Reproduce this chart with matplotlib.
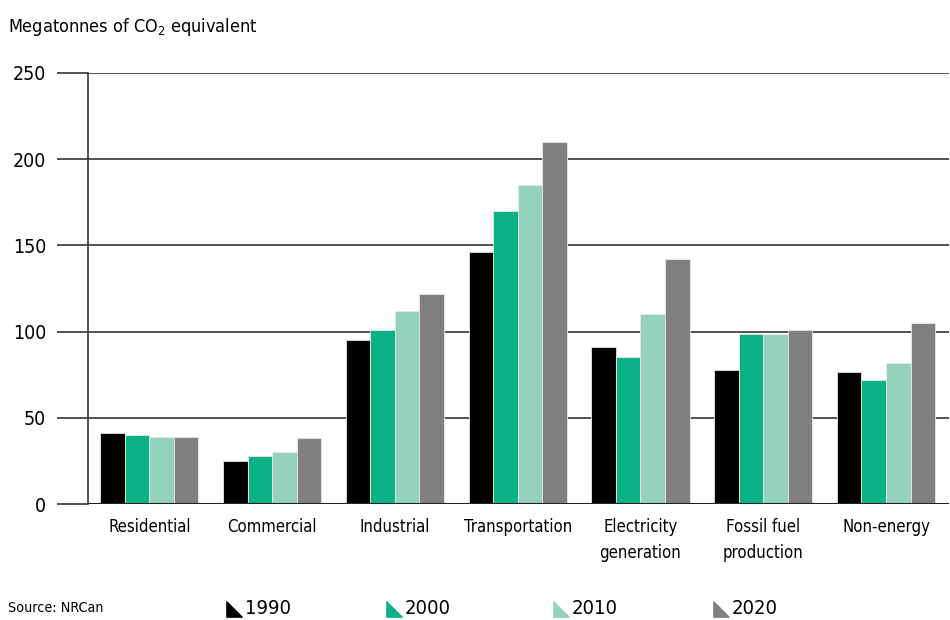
import matplotlib
matplotlib.use("Agg")
import matplotlib.pyplot as plt
import numpy as np
from matplotlib.path import Path

plt.rcParams['font.family'] = ['DejaVu Sans']
plt.rcParams['font.stretch'] = 'condensed'

categories = ["Residential", "Commercial", "Industrial", "Transportation",
              "Electricity\ngeneration", "Fossil fuel\nproduction", "Non-energy"]
years = ["1990", "2000", "2010", "2020"]
v1990 = [41, 25, 95, 146, 91, 77.5, 76.5]
v2000 = [40, 28, 101, 170, 85, 98.5, 72]
v2010 = [39, 30, 112, 185, 110, 98.5, 82]
v2020 = [39, 38, 122, 210, 142, 101, 105]
yticks = [0, 50, 100, 150, 200, 250]
colors = ["#000000", "#0bb186", "#95d2bb", "#808080"]

series = [v1990, v2000, v2010, v2020]

fig = plt.figure(figsize=(9.5, 6.2), dpi=100)
ax = fig.add_axes([88/950, 1-504/620, (949-88)/950, (504-73)/620])

x = np.arange(len(categories))
w = 0.2
for k, (vals, c) in enumerate(zip(series, colors)):
    ax.bar(x + (k - 1.5) * w, vals, width=w, color=c, edgecolor="#e8e8e8",
           linewidth=0.6, zorder=3)

ax.set_ylim(0, 250)
ax.set_xlim(-0.5, -0.5 + (949-88)/122.77)
ax.set_yticks(yticks)
ax.set_yticklabels([str(t) for t in yticks], fontsize=14)
ax.set_xticks(x)
ax.set_xticklabels(categories, fontsize=12, linespacing=1.6)
ax.tick_params(axis='x', length=0, pad=10)
ax.tick_params(axis='y', length=22, width=1.2, color="#333333", pad=8)
ax.grid(axis='y', color="#333333", linewidth=1.2, zorder=0)
for s in ["top", "right", "bottom"]:
    ax.spines[s].set_visible(False)
ax.spines["left"].set_color("#333333")
ax.spines["left"].set_linewidth(1.2)
ax.axhline(0, color="#222222", linewidth=1.5, zorder=4)

fig.text(8/950, 1-27/620, "Megatonnes of CO$_2$ equivalent", fontsize=13,
         va="center", ha="left")
fig.text(8/950, 1-608/620, "Source: NRCan", fontsize=10.3, va="center", ha="left")

tri = Path([(-1, -1), (1, -1), (-1, 1), (-1, -1)],
           [Path.MOVETO, Path.LINETO, Path.LINETO, Path.CLOSEPOLY])
leg_x = [234, 394, 561, 721]
for lx, c, y in zip(leg_x, colors, years):
    fig.lines.append(plt.Line2D([lx/950], [1-609/620], marker=tri, markersize=11,
                                color=c, linestyle='none', transform=fig.transFigure))
    fig.text((lx + 11)/950, 1-609/620, y, fontsize=14.5, va="center", ha="left")

fig.savefig("out.png", dpi=100)
